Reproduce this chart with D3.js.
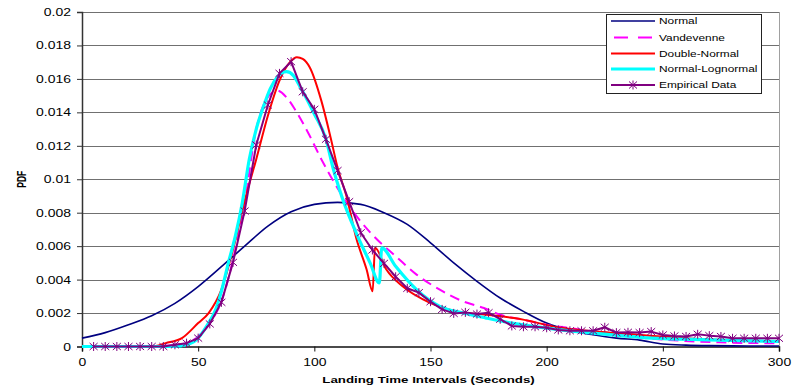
<!DOCTYPE html>
<html>
<head>
<meta charset="utf-8">
<script src="https://cdn.jsdelivr.net/npm/d3@7"></script>
<style>
  html, body { margin: 0; padding: 0; background: #fff; }
  svg { display: block; }
  text { font-family: "Liberation Sans", Arial, sans-serif; fill: #000; }
</style>
</head>
<body>
<svg id="chart" width="798" height="388"></svg>
<script>
// ---------------- DATA ----------------
const yTickValues = [0, 0.002, 0.004, 0.006, 0.008, 0.01, 0.012, 0.014, 0.016, 0.018, 0.02];
const yTickLabels = ["0", "0.002", "0.004", "0.006", "0.008", "0.01", "0.012", "0.014", "0.016", "0.018", "0.02"];
const xTickValues = [0, 50, 100, 150, 200, 250, 300];
const xTickLabels = ["0", "50", "100", "150", "200", "250", "300"];

const seriesNames = ["Normal", "Vandevenne", "Double-Normal", "Normal-Lognormal", "Empirical Data"];

// Normal
const normalT = [0, 10, 20, 30, 40, 50, 60, 70, 80, 90, 100, 110, 120, 130, 140, 150, 160, 170, 180, 190, 200, 210, 220, 230, 240, 250, 260, 270, 280, 290, 300];
const normalV = [0.0005, 0.00083, 0.0013, 0.00184, 0.00258, 0.00358, 0.00477, 0.006, 0.0072, 0.00806, 0.0085, 0.00862, 0.0085, 0.008, 0.0073, 0.0062, 0.005, 0.0039, 0.0029, 0.0021, 0.0014, 0.00096, 0.0007, 0.0005, 0.00038, 0.00015, 0.00008, 0.00005, 0.00004, 0.00003, 0.00003];

// Vandevenne
const vandT = [0, 30, 40, 45, 50, 55, 60, 65, 70, 75, 80, 84, 88, 92, 98, 103, 109, 115, 121, 127, 135, 144, 154, 164, 173, 180, 190, 200, 210, 220, 230, 243, 252, 264, 274, 300];
const vandV = [0, 0, 0.0001, 0.0002, 0.0006, 0.0014, 0.0027, 0.0052, 0.0086, 0.0130, 0.0149, 0.0153, 0.0149, 0.0141, 0.0126, 0.0112, 0.0097, 0.0084, 0.0073, 0.0064, 0.0054, 0.0043, 0.0034, 0.0027, 0.0023, 0.0019, 0.0016, 0.0013, 0.0011, 0.0009, 0.0007, 0.0005, 0.0004, 0.0003, 0.00025, 0.00019];

// Double-Normal
const dblT = [0, 30, 36, 43, 50, 54.5, 60, 65, 70, 75, 80, 85, 89.5, 92.5, 95, 98, 103, 107, 110, 114, 118, 122.5, 125.1, 126.1, 131, 138, 150, 161, 174, 186, 207, 230, 260, 300];
const dblV = [0, 0, 0.0002, 0.0005, 0.0014, 0.002, 0.0034, 0.0058, 0.0087, 0.0112, 0.0138, 0.0159, 0.0170, 0.0173, 0.0172, 0.0167, 0.0147, 0.0125, 0.0107, 0.0089, 0.0065, 0.0046, 0.0033, 0.0059, 0.0046, 0.0036, 0.0026, 0.0021, 0.0019, 0.0017, 0.0011, 0.0008, 0.0005, 0.0003];

// Normal-Lognormal
const nlnT = [0, 40, 45, 50, 54, 57.5, 60, 63, 66, 69, 72, 75, 78, 81, 84, 88, 91, 94, 100, 105, 108, 112, 118, 124, 128, 129, 135, 144, 154, 164, 174, 185, 200, 220, 245, 270, 300];
const nlnV = [0, 0, 0.0001, 0.0005, 0.0013, 0.0022, 0.0033, 0.005, 0.0066, 0.0086, 0.0112, 0.0130, 0.0143, 0.0154, 0.0161, 0.01643, 0.0162, 0.0155, 0.0139, 0.0124, 0.0107, 0.0089, 0.0068, 0.0050, 0.0038, 0.0059, 0.0048, 0.0034, 0.0024, 0.0020, 0.0017, 0.0014, 0.0011, 0.0008, 0.0005, 0.0004, 0.0003];

// Empirical data
const empT = [5, 10, 15, 20, 25, 30, 35, 40, 45, 50, 55, 60, 65, 70, 75, 80, 85, 90, 95, 100, 105, 110, 115, 120, 125, 130, 135, 140, 145, 150, 155, 160, 165, 170, 175, 180, 185, 190, 195, 200, 205, 210, 215, 220, 225, 230, 235, 240, 245, 250, 255, 260, 265, 270, 275, 280, 285, 290, 295, 300];
const empV = [0, 0, 0, 0, 0, 0, 0, 0.0001, 0.0002, 0.0005, 0.00135, 0.00264, 0.00503, 0.0081, 0.01205, 0.01444, 0.01633, 0.01703, 0.01523, 0.01418, 0.01239, 0.01052, 0.00866, 0.0068, 0.00577, 0.00497, 0.00417, 0.00348, 0.00322, 0.00268, 0.00222, 0.00198, 0.00204, 0.00194, 0.00202, 0.00163, 0.00123, 0.00118, 0.00118, 0.00112, 0.00099, 0.00094, 0.00094, 0.00094, 0.00115, 0.00083, 0.00085, 0.00083, 0.00089, 0.00069, 0.00063, 0.0006, 0.00073, 0.00065, 0.0006, 0.00049, 0.00049, 0.00049, 0.00049, 0.00049];

// ---------------- CHART ----------------
const svg = d3.select("#chart");
const SX = 1.4; // horizontal stretch of the original picture's text

const x = d3.scaleLinear().domain([0, 300]).range([82, 779]);
const y = d3.scaleLinear().domain([0, 0.02]).range([346.5, 12]);

// gridlines
svg.append("g")
  .selectAll("line")
  .data(yTickValues.filter(v => v > 0))
  .join("line")
  .attr("x1", x(0)).attr("x2", x(300))
  .attr("y1", d => Math.round(y(d)) + 0.5).attr("y2", d => Math.round(y(d)) + 0.5)
  .attr("stroke", "#707070").attr("stroke-width", 1);

// right border of plot area
svg.append("line")
  .attr("x1", x(300) + 0.5).attr("x2", x(300) + 0.5)
  .attr("y1", y(0.02)).attr("y2", y(0))
  .attr("stroke", "#a0a0a0");

// Y axis
const yAxis = svg.append("g")
  .attr("transform", `translate(${x(0)},0)`)
  .call(d3.axisLeft(y).tickValues(yTickValues).tickSize(5).tickPadding(0)
    .tickFormat((d, i) => yTickLabels[i]));
yAxis.select(".domain").attr("stroke", "#333").attr("stroke-width", 1.5);
yAxis.selectAll(".tick line").attr("stroke", "#333");
yAxis.selectAll(".tick text")
  .attr("x", 0).attr("dy", "0.35em")
  .attr("transform", `translate(-11,0) scale(${SX},1)`)
  .style("font-size", "10px").style("font-family", "Liberation Sans, Arial, sans-serif");

// X axis
const xAxis = svg.append("g")
  .attr("transform", `translate(0,${y(0)})`)
  .call(d3.axisBottom(x).tickValues(xTickValues).tickSize(5).tickPadding(0)
    .tickFormat((d, i) => xTickLabels[i]));
xAxis.select(".domain").attr("stroke", "#111").attr("stroke-width", 1.5);
xAxis.selectAll(".tick line").attr("stroke", "#111");
xAxis.selectAll(".tick text")
  .attr("y", 0).attr("dy", 0)
  .attr("transform", `translate(0,19) scale(${SX},1)`)
  .style("font-size", "10px").style("font-family", "Liberation Sans, Arial, sans-serif");

// axis titles
svg.append("text")
  .attr("transform", `translate(${(x(0) + x(300)) / 2 - 2},383) scale(${SX},1)`)
  .attr("text-anchor", "middle")
  .style("font-size", "9.5px").style("font-weight", "bold")
  .text("Landing Time Intervals (Seconds)");

svg.append("text")
  .attr("transform", `translate(26,${(y(0) + y(0.02)) / 2}) scale(${SX},1) rotate(-90)`)
  .attr("text-anchor", "middle")
  .style("font-size", "8.5px").style("font-weight", "bold")
  .text("PDF");

// series
const mk = (T, V) => T.map((t, i) => [t, V[i]]);
const line = d3.line().x(d => x(d[0])).y(d => y(d[1])).curve(d3.curveMonotoneX);
const straight = d3.line().x(d => x(d[0])).y(d => y(d[1]));

const styles = [
  { data: mk(normalT, normalV), color: "#000080", width: 1.6, dash: null, gen: line },
  { data: mk(vandT, vandV), color: "#FF00FF", width: 2, dash: "10,6", gen: line },
  { data: mk(dblT, dblV), color: "#FF0000", width: 2, dash: null, gen: line },
  { data: mk(nlnT, nlnV), color: "#00FFFF", width: 3.2, dash: null, gen: line },
  { data: mk(empT, empV), color: "#800080", width: 2, dash: null, gen: straight }
];

const plot = svg.append("g");
styles.forEach(s => {
  plot.append("path")
    .attr("d", s.gen(s.data))
    .attr("fill", "none")
    .attr("stroke", s.color)
    .attr("stroke-width", s.width)
    .attr("stroke-linejoin", "round")
    .attr("stroke-dasharray", s.dash);
});

const star = "M-4,-3.5L4,3.5M-4,3.5L4,-3.5M0,-4.5L0,4.5";
plot.append("g")
  .selectAll("path")
  .data(mk(empT, empV))
  .join("path")
  .attr("transform", d => `translate(${x(d[0])},${y(d[1])})`)
  .attr("d", star)
  .attr("stroke", "#800080").attr("stroke-width", 1).attr("fill", "none");

// legend
const lg = svg.append("g");
lg.append("rect")
  .attr("x", 606.5).attr("y", 14.5).attr("width", 155).attr("height", 79)
  .attr("fill", "#fff").attr("stroke", "#222").attr("stroke-width", 1);
const legendY = [21, 37.5, 53.5, 69, 85];
styles.forEach((s, i) => {
  lg.append("line")
    .attr("x1", 611).attr("x2", 655)
    .attr("y1", legendY[i]).attr("y2", legendY[i])
    .attr("stroke", s.color).attr("stroke-width", s.width)
    .attr("stroke-dasharray", s.dash ? "14,10" : null)
    .attr("stroke-dashoffset", s.dash ? -3 : null);
  if (i === 4) {
    lg.append("path")
      .attr("transform", `translate(633,${legendY[i]})`)
      .attr("d", star).attr("stroke", s.color).attr("stroke-width", 1).attr("fill", "none");
  }
  lg.append("text")
    .attr("transform", `translate(659,${legendY[i] + 3}) scale(${SX},1)`)
    .style("font-size", "8.5px")
    .text(seriesNames[i]);
});
</script>
</body>
</html>
